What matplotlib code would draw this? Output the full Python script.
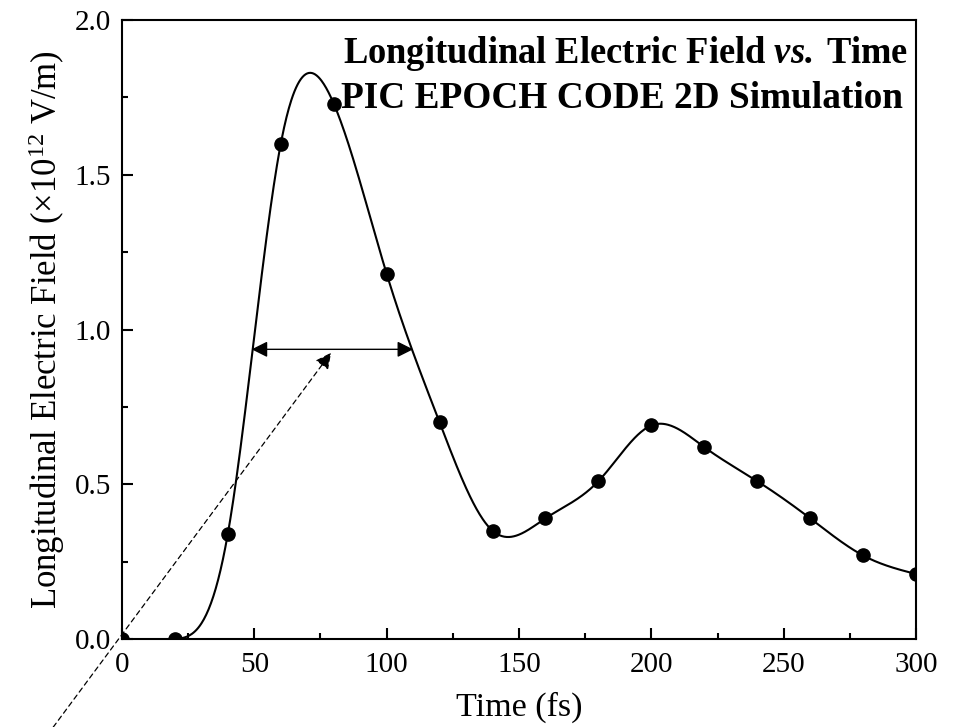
import matplotlib
matplotlib.use("Agg")
import matplotlib.pyplot as plt
from matplotlib.ticker import MultipleLocator
import numpy as np

# time (fs) and longitudinal field (x1e12 V/m)
time_fs = [0, 20, 40, 60, 80, 100, 120, 140, 160, 180, 200, 220, 240, 260, 280, 300]
field = [0.0, 0.0, 0.34, 1.60, 1.73, 1.18, 0.70, 0.35, 0.39, 0.51, 0.69, 0.62, 0.51, 0.39, 0.27, 0.21]

# FWHM marker and pointer arrow (data coords)
fwhm_x = [49, 110]
fwhm_y = 0.936
pointer_start = (-26, -0.285)
pointer_end = (79, 0.925)

plt.rcParams['font.family'] = 'Liberation Serif'
plt.rcParams['mathtext.fontset'] = 'custom'
plt.rcParams['mathtext.rm'] = 'Liberation Serif'
plt.rcParams['mathtext.it'] = 'Liberation Serif:italic'
plt.rcParams['mathtext.bf'] = 'Liberation Serif:bold'
plt.rcParams['mathtext.bfit'] = 'Liberation Serif:italic:bold'


def natural_spline(x, y, xs):
    x = np.asarray(x, float)
    y = np.asarray(y, float)
    n = len(x)
    h = np.diff(x)
    A = np.zeros((n, n))
    b = np.zeros(n)
    A[0, 0] = 1
    A[-1, -1] = 1
    for i in range(1, n - 1):
        A[i, i - 1] = h[i - 1]
        A[i, i] = 2 * (h[i - 1] + h[i])
        A[i, i + 1] = h[i]
        b[i] = 6 * ((y[i + 1] - y[i]) / h[i] - (y[i] - y[i - 1]) / h[i - 1])
    M = np.linalg.solve(A, b)
    idx = np.clip(np.searchsorted(x, xs) - 1, 0, n - 2)
    x0, x1 = x[idx], x[idx + 1]
    hh = x1 - x0
    t0 = x1 - xs
    t1 = xs - x0
    return (M[idx] * t0 ** 3 / (6 * hh) + M[idx + 1] * t1 ** 3 / (6 * hh)
            + (y[idx] / hh - M[idx] * hh / 6) * t0
            + (y[idx + 1] / hh - M[idx + 1] * hh / 6) * t1)


fig = plt.figure(figsize=(9.55, 7.27), dpi=100)
ax = fig.add_axes([0.1277, 0.121, 0.8315, 0.8515])

xs = np.linspace(time_fs[0], time_fs[-1], 1000)
ax.plot(xs, natural_spline(time_fs, field, xs), color='k', lw=1.5)
ax.plot(time_fs, field, 'o', color='k', ms=9.5)

ax.set_xlim(0, 300)
ax.set_ylim(0, 2.0)
ax.xaxis.set_major_locator(MultipleLocator(50))
ax.xaxis.set_minor_locator(MultipleLocator(25))
ax.yaxis.set_major_locator(MultipleLocator(0.5))
ax.yaxis.set_minor_locator(MultipleLocator(0.25))
ax.tick_params(which='both', direction='in', width=1.5, labelsize=21)
ax.tick_params(which='major', length=8)
ax.tick_params(which='minor', length=4.5)
ax.tick_params(axis='x', pad=9)
ax.tick_params(axis='y', pad=8)
for s in ax.spines.values():
    s.set_linewidth(1.5)

ax.set_xlabel('Time (fs)', fontsize=24.5, labelpad=10)
ax.set_ylabel(r'Longitudinal Electric Field (×$10^{12}$ V/m)', fontsize=25, labelpad=5)

ax.annotate('', xy=(fwhm_x[1], fwhm_y), xytext=(fwhm_x[0], fwhm_y),
            arrowprops=dict(arrowstyle='<|-|>', color='k', lw=1,
                            mutation_scale=24, shrinkA=0, shrinkB=0))
ax.annotate('', xy=pointer_end, xytext=pointer_start, annotation_clip=False,
            arrowprops=dict(arrowstyle='-|>', color='k', lw=0.9, ls=(0, (4, 3)),
                            mutation_scale=24, shrinkA=0, shrinkB=0))

ax.text(0.990, 0.9305, r'Longitudinal Electric Field $\mathbfit{vs.}\;$Time',
        transform=ax.transAxes, ha='right', va='baseline',
        fontsize=26.3, fontweight='bold')
ax.text(0.9836, 0.858, 'PIC EPOCH CODE 2D Simulation',
        transform=ax.transAxes, ha='right', va='baseline',
        fontsize=26.8, fontweight='bold')

fig.savefig('out.png', dpi=100)
